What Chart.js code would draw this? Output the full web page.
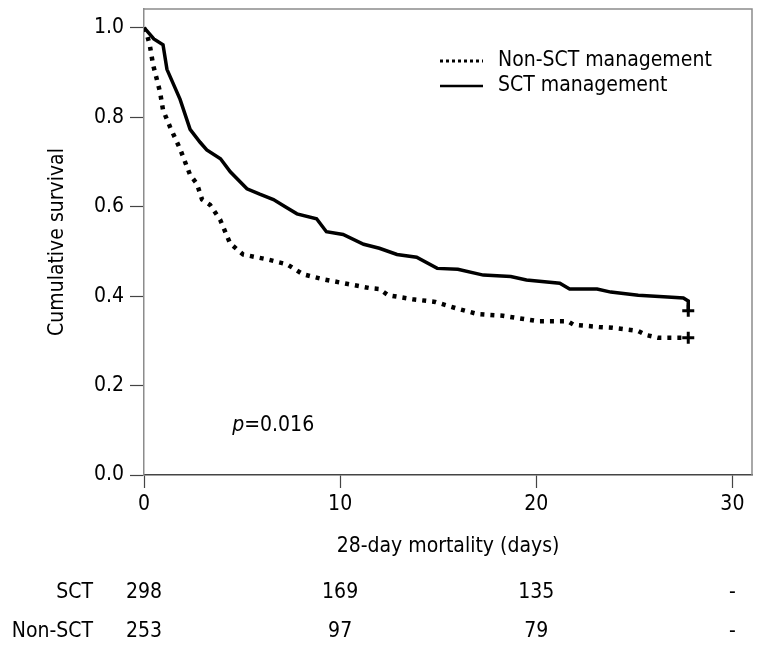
<!DOCTYPE html>
<html>
<head>
<meta charset="utf-8">
<script src="https://cdn.jsdelivr.net/npm/chart.js@4"></script>
<style>
  html, body { margin: 0; padding: 0; background: #fff; }
  #wrap { width: 761px; height: 647px; position: relative; }
</style>
</head>
<body>
<div id="wrap"><canvas id="kmChart"></canvas></div>
<script>
// Kaplan-Meier curves, values
const sctDays = [0, 0.15, 0.5, 0.97, 1.17, 1.84, 2.35, 2.86, 3.2, 3.9, 4.4, 5.25, 5.9, 6.6, 7.2, 7.8, 8.8, 9.3, 10.15, 11.2, 12.0, 12.9, 13.9, 14.95, 16.0, 17.3, 18.7, 19.5, 21.2, 21.7, 23.1, 23.8, 25.2, 26.7, 27.5, 27.75, 27.75];
const sctSurv = [1.0, 0.993, 0.975, 0.962, 0.907, 0.84, 0.773, 0.744, 0.727, 0.707, 0.678, 0.64, 0.628, 0.616, 0.600, 0.584, 0.573, 0.544, 0.538, 0.516, 0.507, 0.493, 0.487, 0.462, 0.46, 0.447, 0.444, 0.436, 0.429, 0.416, 0.416, 0.409, 0.402, 0.398, 0.396, 0.389, 0.367];

const nonDays = [0, 0.15, 0.3, 0.46, 0.82, 0.97, 1.33, 1.84, 2.35, 2.7, 2.96, 3.37, 3.88, 4.39, 5.05, 6.3, 7.3, 8.1, 9.1, 10.4, 11.5, 12.0, 12.45, 13.7, 14.85, 15.9, 17.0, 18.3, 20.1, 21.6, 21.9, 23.2, 23.9, 25.2, 25.6, 26.2, 27.75];
const nonSurv = [1.0, 0.985, 0.96, 0.918, 0.856, 0.816, 0.778, 0.729, 0.671, 0.651, 0.616, 0.604, 0.571, 0.518, 0.493, 0.482, 0.471, 0.449, 0.438, 0.427, 0.418, 0.416, 0.402, 0.393, 0.387, 0.373, 0.36, 0.356, 0.344, 0.344, 0.336, 0.331, 0.329, 0.322, 0.313, 0.307, 0.307];

// Axis ticks
const xTicks = [0, 10, 20, 30];
const yTicks = [0, 0.2, 0.4, 0.6, 0.8, 1.0];

// Number at risk table
const riskGroups = ['SCT', 'Non-SCT'];
const riskSct = ['298', '169', '135', '-'];
const riskNon = ['253', '97', '79', '-'];

const pValueText = '=0.016';

const FONT = "'Liberation Sans Narrow', 'DejaVu Sans Condensed', 'Roboto Condensed', sans-serif";
const FSIZE = 21;
Chart.defaults.font.family = FONT;
Chart.defaults.font.size = FSIZE;
Chart.defaults.color = '#000';

const toPoints = (xs, ys) => xs.map((x, i) => ({ x: x, y: ys[i] }));
const lastOnly = size => ctx => ctx.dataIndex === ctx.dataset.data.length - 1 ? size : 0;
const noPad = s => { s.paddingTop = 0; s.paddingBottom = 0; s.paddingLeft = 0; s.paddingRight = 0; };

// Frame, legend, p-value and risk table
const extras = {
    id: 'extras',
    beforeDatasetsDraw(chart) {
        const { ctx, chartArea: a } = chart;
        ctx.save();
        ctx.strokeStyle = '#8c8c8c';
        ctx.lineWidth = 1.5;
        ctx.beginPath();
        ctx.moveTo(a.left, a.top);
        ctx.lineTo(a.right, a.top);
        ctx.lineTo(a.right, a.bottom);
        ctx.stroke();
        ctx.restore();
    },
    afterDraw(chart) {
        const { ctx } = chart;
        const xs = chart.scales.x, ys = chart.scales.y;
        ctx.save();
        ctx.fillStyle = '#000';
        ctx.textBaseline = 'middle';

        // legend
        const sets = chart.data.datasets;
        const rows = [{ ds: sets[0], y: 61 }, { ds: sets[1], y: 86 }];
        rows.forEach(r => {
            ctx.strokeStyle = '#000';
            ctx.lineWidth = r.ds.borderDash.length ? 3 : 2.5;
            ctx.setLineDash(r.ds.borderDash.length ? [3, 3] : []);
            ctx.beginPath();
            ctx.moveTo(440, r.y);
            ctx.lineTo(483, r.y);
            ctx.stroke();
            ctx.setLineDash([]);
            ctx.font = `${FSIZE}px ${FONT}`;
            ctx.textAlign = 'left';
            ctx.fillText(r.ds.label, 498, r.y);
        });

        // p value
        const px = xs.getPixelForValue(4.5), py = ys.getPixelForValue(0.11);
        ctx.font = `italic ${FSIZE}px ${FONT}`;
        ctx.textAlign = 'left';
        ctx.fillText('p', px, py);
        const pw = ctx.measureText('p').width;
        ctx.font = `${FSIZE}px ${FONT}`;
        ctx.fillText(pValueText, px + pw, py);

        // number at risk
        const tableRows = [riskSct, riskNon];
        const rowY = [593, 632];
        tableRows.forEach((vals, r) => {
            ctx.textAlign = 'right';
            ctx.fillText(riskGroups[r], 93, rowY[r]);
            ctx.textAlign = 'center';
            vals.forEach((v, i) => ctx.fillText(v, xs.getPixelForValue(xTicks[i]), rowY[r]));
        });
        ctx.restore();
    }
};

new Chart(document.getElementById('kmChart'), {
    type: 'line',
    data: {
        datasets: [
            {
                label: 'Non-SCT management',
                data: toPoints(nonDays, nonSurv),
                borderColor: '#000',
                backgroundColor: '#000',
                borderWidth: 4.5,
                borderDash: [4, 6],
                borderCapStyle: 'butt',
                fill: false,
                tension: 0,
                pointStyle: 'cross',
                pointRadius: lastOnly(6),
                pointBorderWidth: 3,
                pointHoverRadius: 0
            },
            {
                label: 'SCT management',
                data: toPoints(sctDays, sctSurv),
                borderColor: '#000',
                backgroundColor: '#000',
                borderWidth: 3.5,
                borderDash: [],
                fill: false,
                tension: 0,
                pointStyle: 'cross',
                pointRadius: lastOnly(6),
                pointBorderWidth: 3,
                pointHoverRadius: 0
            }
        ]
    },
    options: {
        responsive: true,
        maintainAspectRatio: false,
        animation: false,
        events: [],
        layout: { padding: { left: 45, top: 5, right: 9, bottom: 88 } },
        plugins: { legend: { display: false }, tooltip: { enabled: false } },
        scales: {
            x: {
                type: 'linear',
                min: 0,
                max: 31,
                afterBuildTicks: s => { s.ticks = xTicks.map(v => ({ value: v })); },
                afterFit: s => { s.height = 84; noPad(s); },
                ticks: { padding: 4, maxRotation: 0 },
                grid: { drawOnChartArea: false, tickLength: 13, tickColor: '#444', tickWidth: 1.2 },
                border: { color: '#444', width: 1.5 },
                title: { display: true, text: '28-day mortality (days)', padding: 0 }
            },
            y: {
                type: 'linear',
                min: 0,
                max: 1.042,
                afterBuildTicks: s => { s.ticks = yTicks.map(v => ({ value: v })); },
                afterFit: s => { s.width = 99; noPad(s); },
                ticks: { padding: 6, callback: v => v.toFixed(1) },
                grid: { drawOnChartArea: false, tickLength: 14, tickColor: '#444', tickWidth: 1.2 },
                border: { color: '#8c8c8c', width: 1.5 },
                title: { display: true, text: 'Cumulative survival', padding: 0 }
            }
        }
    },
    plugins: [extras]
});
</script>
</body>
</html>
